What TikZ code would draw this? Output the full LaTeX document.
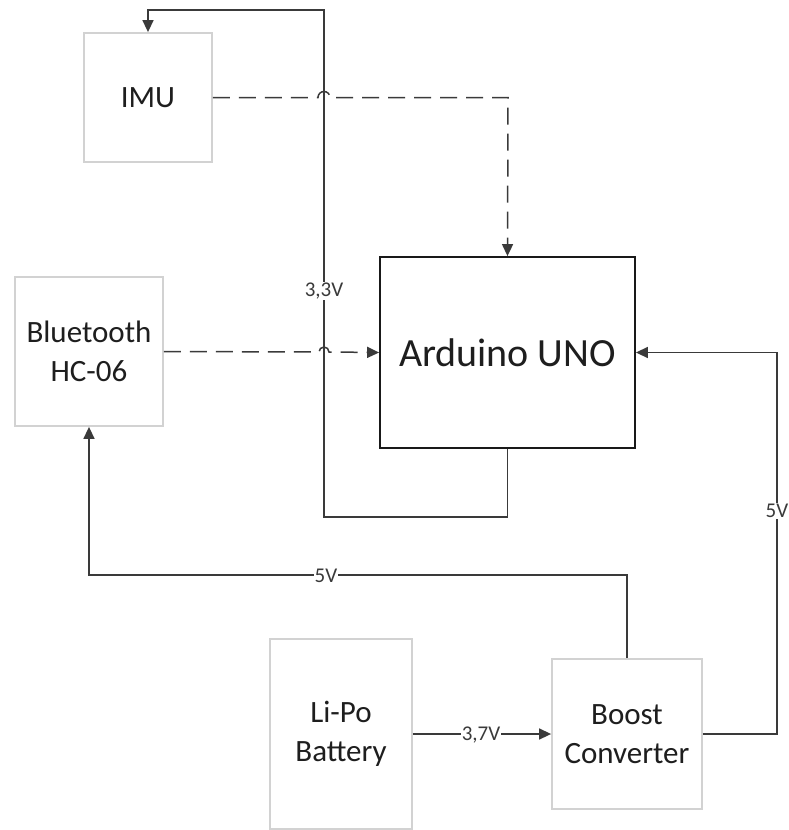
\documentclass[tikz,border=0pt]{standalone}
\usepackage{fontspec}
\setmainfont{Carlito}
\usetikzlibrary{arrows.meta}
\definecolor{boxgray}{HTML}{D2D2D2}
\definecolor{linegray}{HTML}{3A3A3A}
\definecolor{txt}{HTML}{1E1E1E}
\tikzset{
  blk/.style={draw=boxgray, line width=1.8pt, fill=white, inner sep=0pt, align=center, text=txt, font=\fontsize{31}{39}\selectfont},
  mainblk/.style={draw=black!90, line width=1.8pt, fill=white, inner sep=0pt, align=center, text=txt, font=\fontsize{40}{46}\selectfont},
  conn/.style={draw=linegray, line width=1.5pt, -{Triangle[length=12pt,width=11pt]}},
  dconn/.style={conn, dash pattern=on 17pt off 9pt},
  lbl/.style={fill=white, inner sep=1pt, text=linegray, font=\fontsize{21}{24}\selectfont}
}
\begin{document}
\begin{tikzpicture}[x=1pt,y=-1pt]
\useasboundingbox (0,0) rectangle (789,830);
% nodes
\node[blk, minimum width=128pt, minimum height=129pt] (imu) at (148,97.5) {IMU};
\node[blk, minimum width=148pt, minimum height=149pt] (bt) at (89,351.5) {Bluetooth\\HC-06};
\node[mainblk, minimum width=255pt, minimum height=191pt] (ard) at (507.5,352.5) {Arduino UNO};
\node[blk, minimum width=142pt, minimum height=190pt] (lipo) at (341,734) {Li-Po\\Battery};
\node[blk, minimum width=150pt, minimum height=150pt] (boost) at (627,734) {Boost\\Converter};
% 3,3V supply loop
\coordinate (c1) at (324,517);
\coordinate (c2) at (324,10);
\draw[conn] (ard.south) |- (c1) -- (c2) -| (imu.north);
\node[lbl] (l33) at (324,291) {3,3V};
% IMU data (dashed, hop over 3,3V line)
\coordinate (h1) at (318,97.5);
\coordinate (h2) at (508,97.5);
\draw[dconn] (imu.east) -- (h1) arc[start angle=180, end angle=0, radius=6pt] -- (h2) -- (ard.north);
% Bluetooth data (dashed, hop)
\coordinate (h3) at (319,352);
\draw[dconn] (bt.east) -- (h3) arc[start angle=180, end angle=0, radius=5pt] -- (ard.west);
% 5V to Bluetooth
\coordinate (c3) at (627,575);
\draw[conn] (boost.north) -- (c3) -| (bt.south);
\node[lbl] (l5a) at (326,576) {5V};
% 5V to Arduino
\coordinate (c4) at (777,734);
\coordinate (c5) at (777,352.5);
\draw[conn] (boost.east) -- (c4) -- (c5) -- (ard.east);
\node[lbl] (l5b) at (777,511) {5V};
% 3,7V
\draw[conn] (lipo.east) -- (boost.west);
\node[lbl] (l37) at (481,735) {3,7V};
\end{tikzpicture}
\end{document}
